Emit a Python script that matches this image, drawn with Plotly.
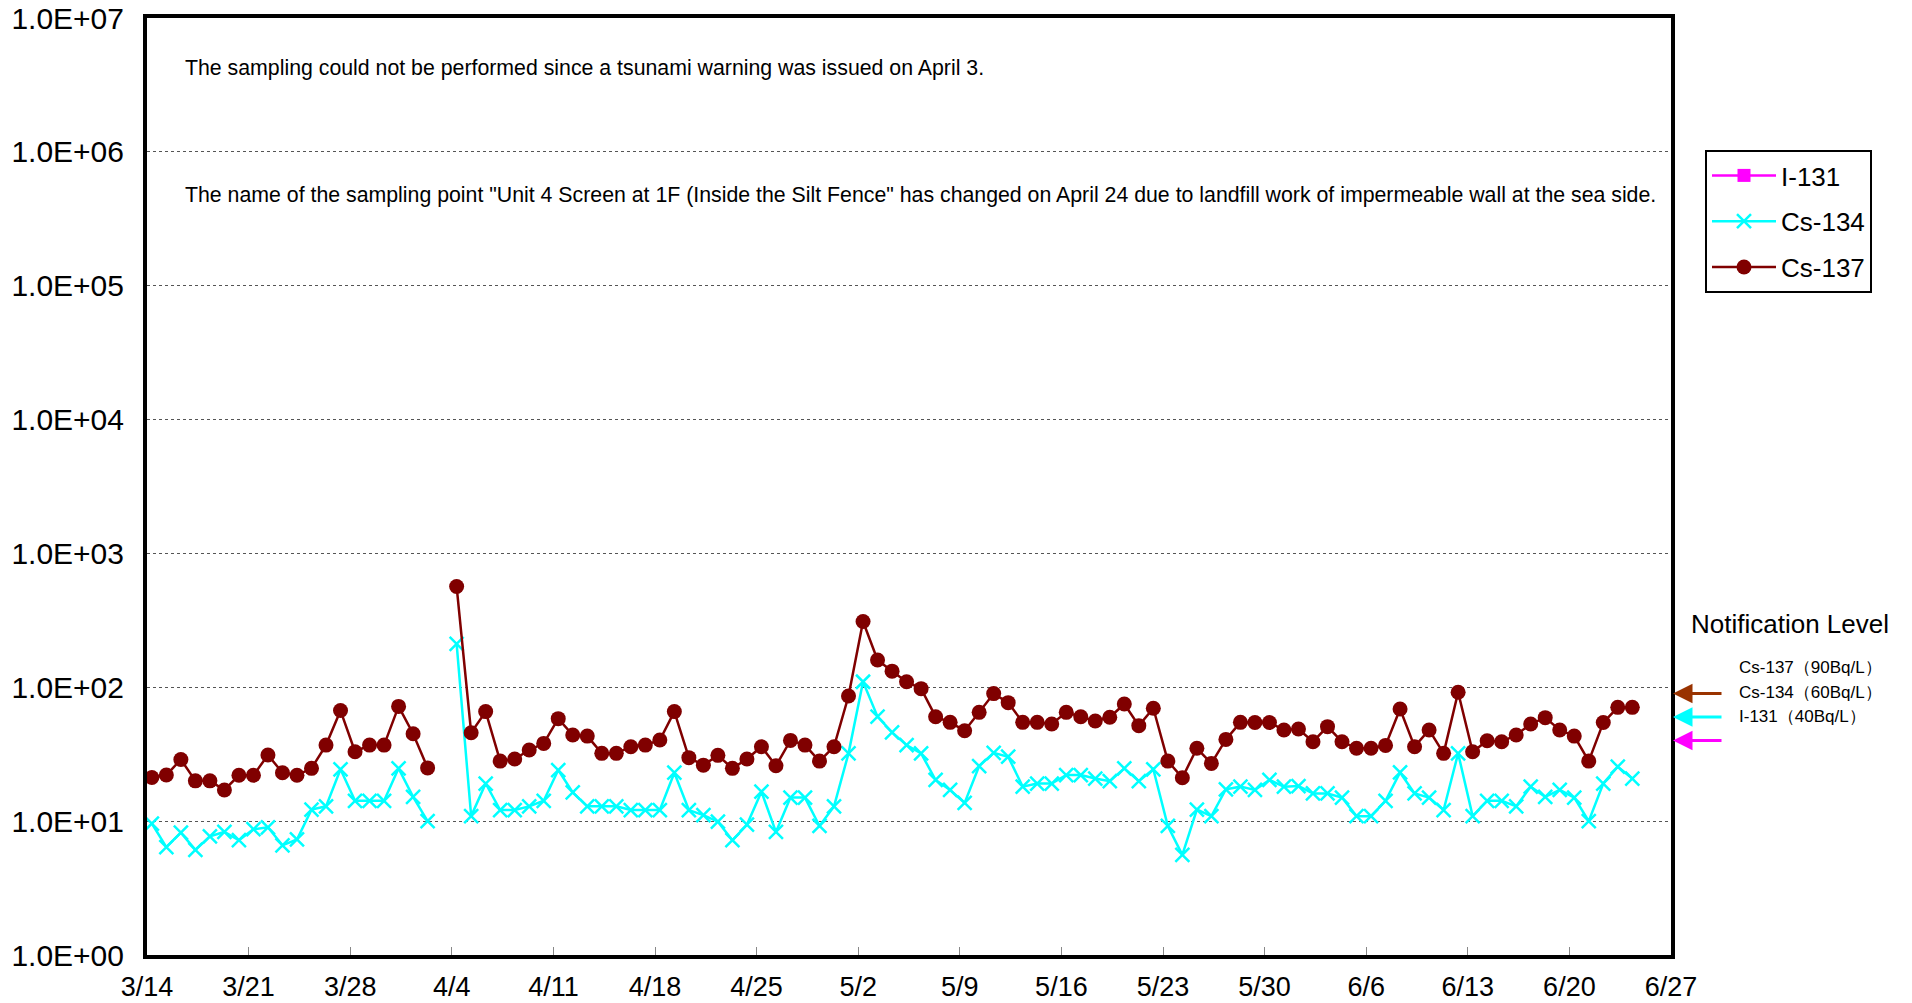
import math
import pandas as pd
import plotly.graph_objects as go

# ---------------- data ----------------
dates = pd.date_range("2011-03-14", "2011-06-24", freq="D")
sample_hour = 8  # samples taken in the morning

cs137 = [21.2, 22.1, 28.9, 20.0, 20.0, 17.1, 22, 22, 31.2, 23, 22, 24.8, 37, 67, 33, 37, 37, 72,
         45, 25, None, 566, 45.8, 65.8, 28.1, 29.1, 34, 38.1, 58.3, 44, 43.2, 32.1, 32.1, 36, 37, 40.4,
         65.8, 29.8, 26.2, 31, 24.8, 29.1, 36, 25.9, 40.1, 37, 28.1, 36,
         86, 310, 160, 132, 110, 97.7, 60.3, 54.7, 47.4, 65, 89.7, 76.8, 54.7, 54.7, 53.2, 65, 60.3,
         56, 59.7, 75, 51.7, 69.7, 28.1, 21.1, 35, 27, 40.8, 54.7, 54.5, 54.5, 48,
         48.8, 39.2, 50.8, 39.2, 35, 35, 36.8, 68.9, 36, 48, 32.1, 91.8, 33, 39.9, 39.2, 44, 53.2,
         59.3, 48, 43.2, 28.1, 54.5, 70.8, 70.8]

cs134 = [9.6, 6.4, 8.2, 6.1, 7.7, 8.3, 7.2, 8.7, 9.0, 6.6, 7.3, 12.2, 12.9, 24.4, 14.2, 14.2, 14.2, 24.8,
         15.2, 10.0, None, 211, 10.9, 19.1, 12.1, 12.1, 12.9, 14.2, 24.1, 16.4, 12.9, 12.9, 12.9, 12.1,
         12.1, 12.1, 23, 12.1, 11.1, 9.9, 7.2, 9.4, 16.6, 8.3, 15.0, 15.0, 9.2, 12.9,
         32.1, 110, 60.3, 46, 37, 32.1, 20.3, 17.1, 13.7, 25.8, 32.4, 30.3, 18.1, 19.1, 19.1, 22.1,
         22.1, 20.8, 19.9, 24.8, 19.9, 24.4, 9.2, 5.6, 12.2, 10.9, 17.3, 18.1, 17.1, 20.3, 18.1,
         18.3, 16.1, 16.1, 15, 10.9, 10.9, 14.2, 23.1, 16.1, 15, 12.1, 32.1, 10.9, 14.2, 14.2, 12.9,
         18.1, 15.2, 17.1, 15, 10.0, 19.1, 25.5, 20.8]

i131 = [None] * len(dates)  # not detected

x_tick_dates = ["2011-03-14", "2011-03-21", "2011-03-28", "2011-04-04", "2011-04-11", "2011-04-18",
                "2011-04-25", "2011-05-02", "2011-05-09", "2011-05-16", "2011-05-23", "2011-05-30",
                "2011-06-06", "2011-06-13", "2011-06-20", "2011-06-27"]
x_tick_labels = ["3/14", "3/21", "3/28", "4/4", "4/11", "4/18", "4/25", "5/2", "5/9", "5/16",
                 "5/23", "5/30", "6/6", "6/13", "6/20", "6/27"]
y_tick_vals = [1, 10, 100, 1000, 10000, 100000, 1000000, 10000000]
y_tick_labels = ["1.0E+00", "1.0E+01", "1.0E+02", "1.0E+03", "1.0E+04", "1.0E+05", "1.0E+06", "1.0E+07"]

notif_names = ["Cs-137（90Bq/L）", "Cs-134（60Bq/L）", "I-131（40Bq/L）"]
notif_levels = [90, 60, 40]
notif_colors = ["#993300", "#00FFFF", "#FF00FF"]

# ---------------- layout geometry ----------------
W, H = 1912, 1003
L, R, T, B = 147, 1671, 18, 955
FONT = "Liberation Sans, Arial, sans-serif"


def px(xp, yp):
    return (xp - L) / (R - L), (B - yp) / (B - T)


xs = [d + pd.Timedelta(hours=sample_hour) for d in dates]

fig = go.Figure()
fig.add_trace(go.Scatter(x=xs, y=i131, name="I-131", mode="lines+markers", legendgroup="a",
                         line=dict(color="#FF00FF", width=2.5),
                         marker=dict(symbol="square", size=13, color="#FF00FF")))
fig.add_trace(go.Scatter(x=xs, y=cs134, name="Cs-134", mode="lines+markers", connectgaps=False,
                         legendgroup="b",
                         line=dict(color="#00FFFF", width=2.5),
                         marker=dict(symbol="x-thin-open", size=14,
                                     line=dict(color="#00FFFF", width=2.5), color="#00FFFF")))
fig.add_trace(go.Scatter(x=xs, y=cs137, name="Cs-137", mode="lines+markers", connectgaps=False,
                         legendgroup="c",
                         line=dict(color="#800000", width=2.5),
                         marker=dict(symbol="circle", size=15, color="#800000")))

annotations = []
tx, ty = px(183, 68)
annotations.append(dict(xref="paper", yref="paper", x=tx, y=ty, xanchor="left", yanchor="middle",
                        showarrow=False, font=dict(size=21.3, color="black", family=FONT),
                        text="The sampling could not be performed since a tsunami warning was issued on April 3."))
tx, ty = px(183, 195)
annotations.append(dict(xref="paper", yref="paper", x=tx, y=ty, xanchor="left", yanchor="middle",
                        showarrow=False, font=dict(size=21.3, color="black", family=FONT),
                        text="The name of the sampling point \"Unit 4 Screen at 1F (Inside the Silt Fence\" "
                             "has changed on April 24 due to landfill work of impermeable wall at the sea side."))
tx, ty = px(1790, 624)
annotations.append(dict(xref="paper", yref="paper", x=tx, y=ty, xanchor="center", yanchor="middle",
                        showarrow=False, font=dict(size=26, color="black", family=FONT),
                        text="Notification Level"))
label_y = [667, 692, 716]
for name, lvl, col, ly in zip(notif_names, notif_levels, notif_colors, label_y):
    tx, ty = px(1737, ly)
    annotations.append(dict(xref="paper", yref="paper", x=tx, y=ty, xanchor="left", yanchor="middle",
                            showarrow=False, font=dict(size=17, color="black", family=FONT),
                            text=name))
    annotations.append(dict(xref="paper", yref="y", x=1.0, y=math.log10(lvl), text="",
                            showarrow=True, ax=52, ay=0, axref="pixel", ayref="pixel",
                            arrowhead=2, arrowsize=1.3, arrowwidth=3, arrowcolor=col,
                            standoff=2))

lx, ly = px(1705, 150)
fig.update_layout(
    width=W, height=H,
    margin=dict(l=L, r=W - R, t=T, b=H - B, pad=0, autoexpand=False),
    paper_bgcolor="white", plot_bgcolor="white",
    font=dict(family=FONT, color="black"),
    showlegend=True,
    legend=dict(x=lx, y=ly, xanchor="left", yanchor="top",
                bordercolor="black", borderwidth=2, bgcolor="white",
                font=dict(size=26, family=FONT), itemwidth=64, tracegroupgap=9,
                entrywidth=165, entrywidthmode="pixels",
                traceorder="grouped"),
    annotations=annotations,
)
fig.update_xaxes(type="date", range=["2011-03-14", "2011-06-27"], automargin=False,
                 tickvals=x_tick_dates, ticktext=x_tick_labels,
                 ticks="inside", ticklen=8, tickcolor="#888888", tickwidth=1,
                 showgrid=False, zeroline=False,
                 showline=True, linecolor="black", linewidth=4, mirror=True,
                 tickfont=dict(size=27, family=FONT), ticklabelstandoff=5)
fig.update_yaxes(type="log", range=[0, 7], automargin=False,
                 tickvals=y_tick_vals, ticktext=y_tick_labels, ticks="",
                 showgrid=True, gridcolor="#555555", gridwidth=1, griddash="dot",
                 zeroline=False,
                 showline=True, linecolor="black", linewidth=4, mirror=True,
                 tickfont=dict(size=30, family=FONT), ticklabelstandoff=13)

fig.write_html("out.html", config={"displayModeBar": False},
               post_script="document.body.style.margin='0';document.body.style.padding='0';"
                           "document.body.style.overflow='hidden';")
